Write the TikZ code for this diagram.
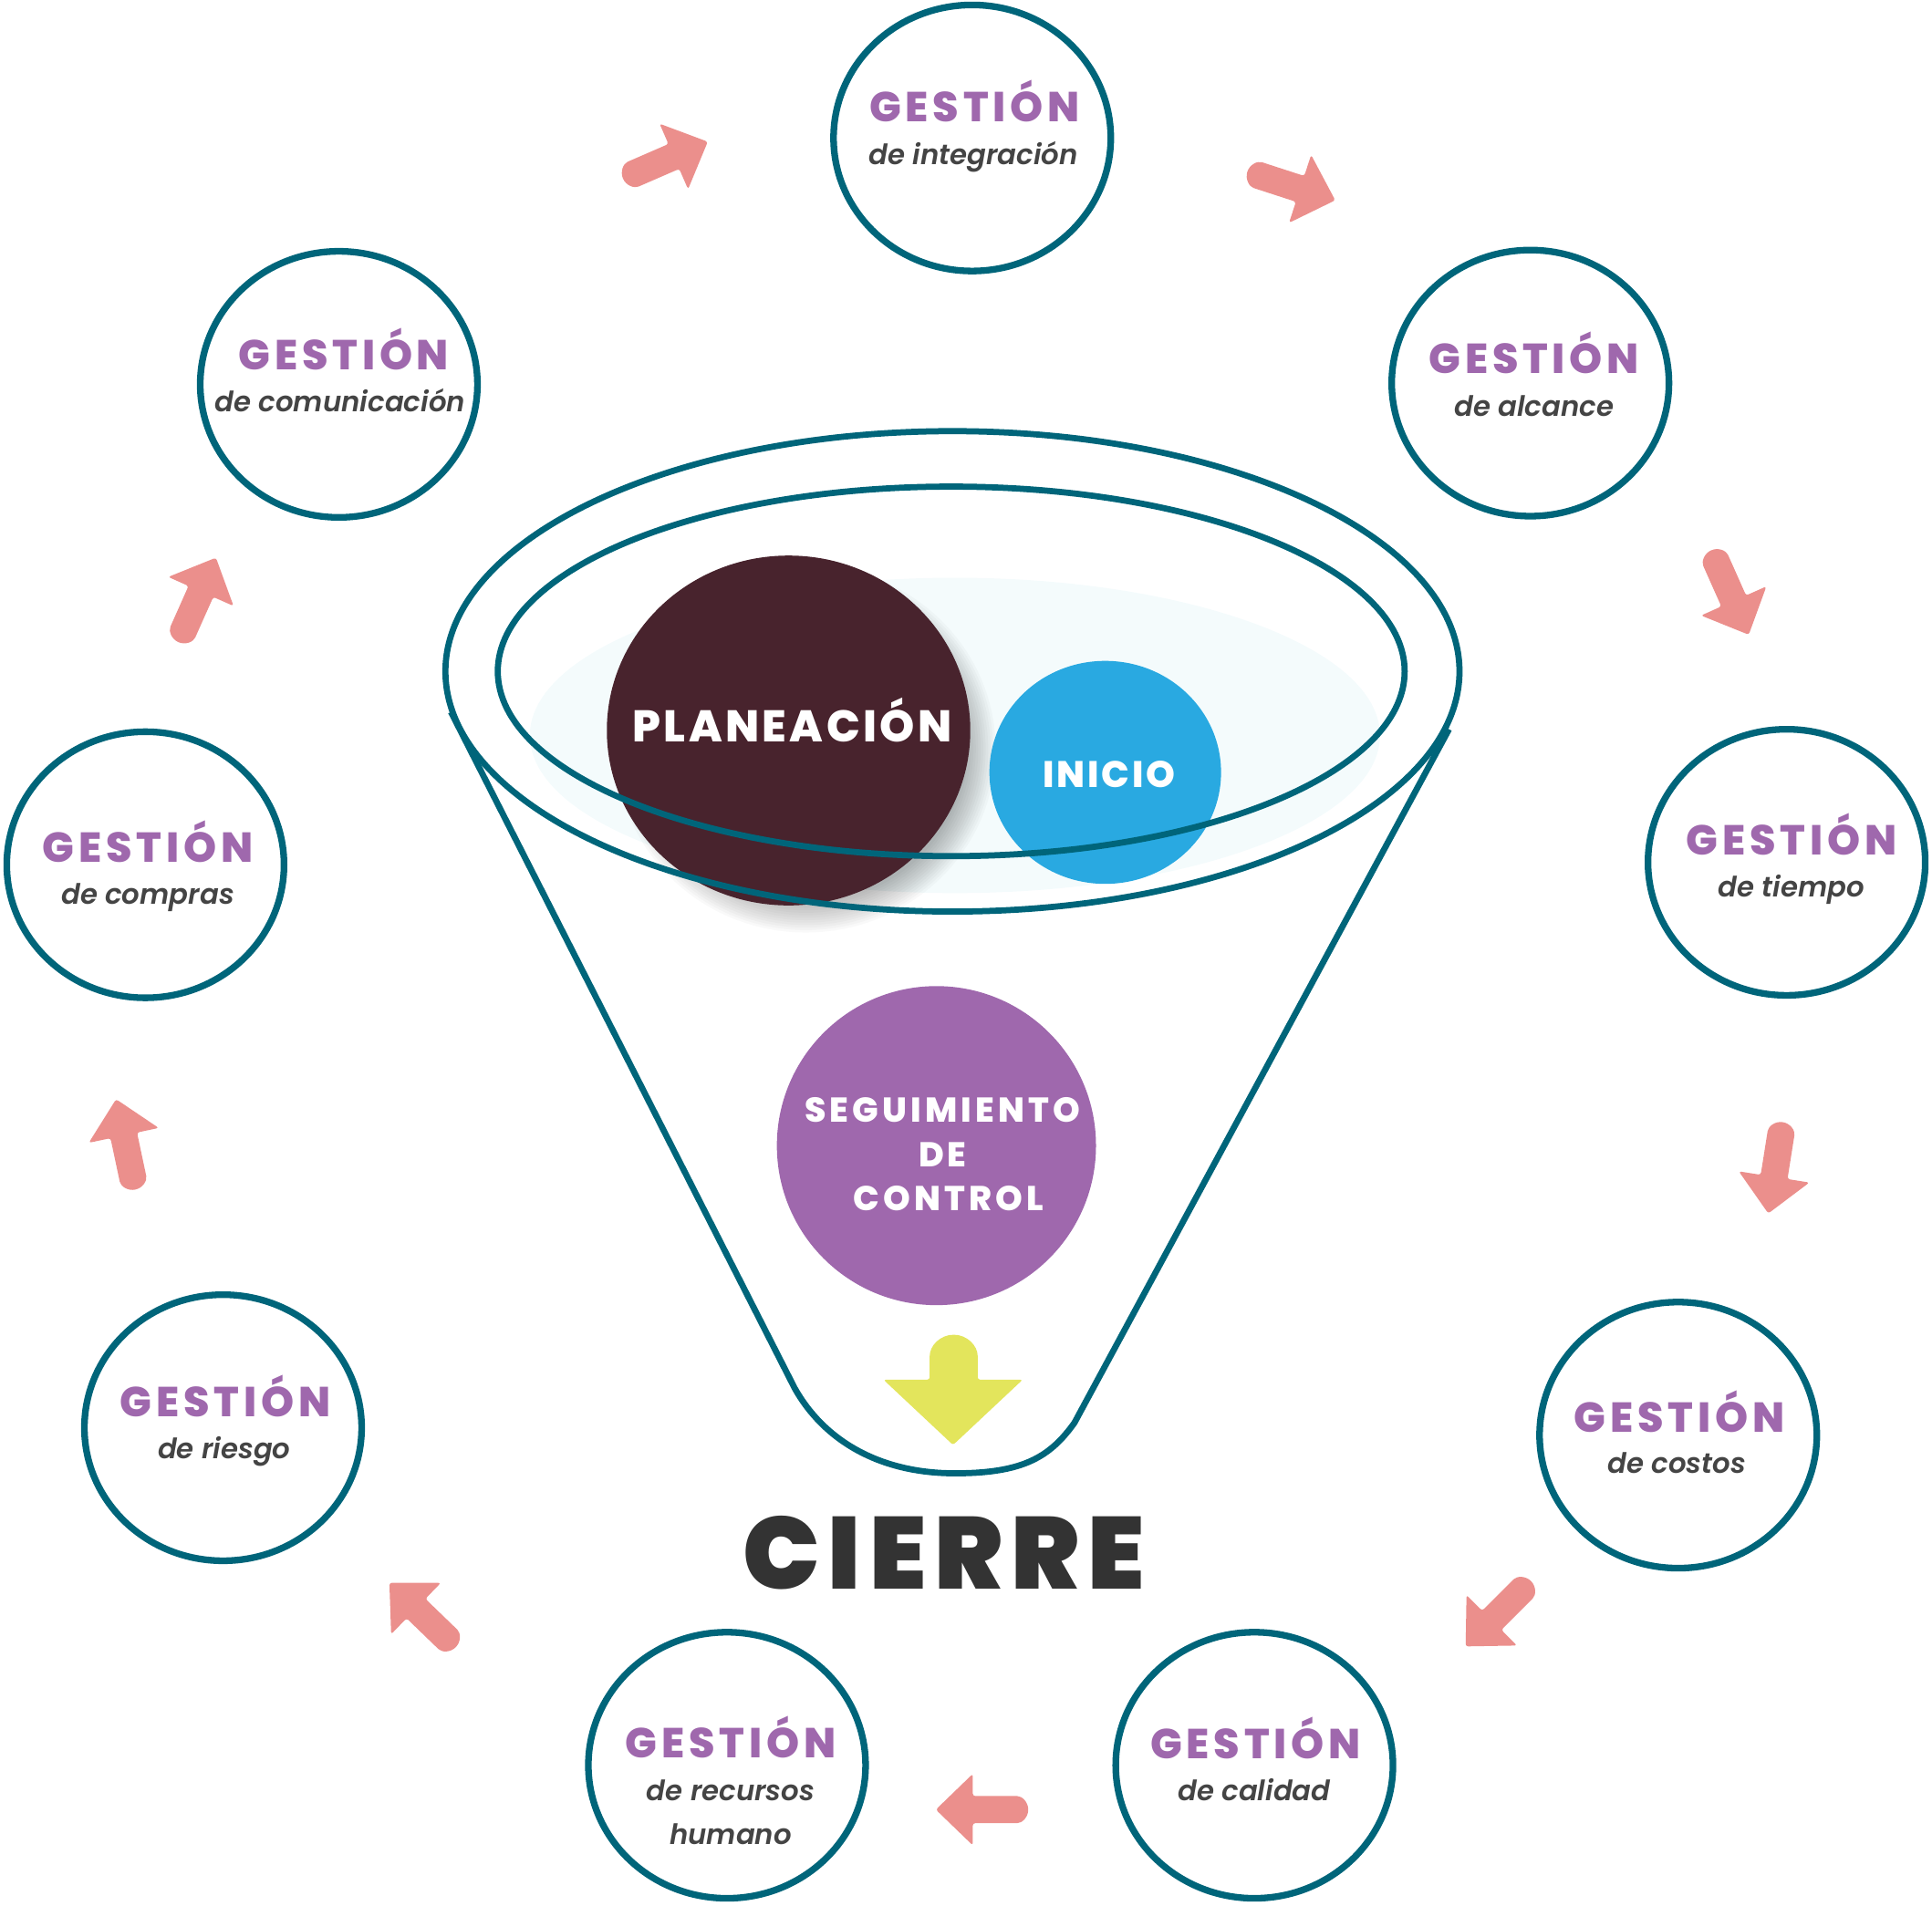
\documentclass[tikz,border=0pt]{standalone}
\usepackage{fontspec}
\usetikzlibrary{shapes.geometric,calc}
\IfFontExistsTF{Poppins ExtraBold}{\def\heavyname{Poppins ExtraBold}}{\def\heavyname{Poppins Bold}}
\IfFontExistsTF{Poppins Black}{\def\blackname{Poppins Black}}{\def\blackname{\heavyname}}
\newfontfamily\gestf{\heavyname}[LetterSpace=10.5]
\newfontfamily\planf{\heavyname}[LetterSpace=7]
\newfontfamily\inif{\heavyname}[LetterSpace=7]
\newfontfamily\segf{\heavyname}[LetterSpace=11]
\newfontfamily\cierf{\blackname}[LetterSpace=8]
\IfFontExistsTF{Poppins SemiBold Italic}{\newfontfamily\subf{Poppins SemiBold Italic}}{%
  \IfFontExistsTF{Poppins Medium Italic}{\newfontfamily\subf{Poppins Medium Italic}}{\newfontfamily\subf{Lato Bold Italic}}}
\definecolor{teal}{HTML}{00657A}
\definecolor{purp}{HTML}{9F68AD}
\definecolor{dgray}{HTML}{444444}
\definecolor{salmon}{HTML}{EB8F8C}
\definecolor{yel}{HTML}{E3E55C}
\definecolor{maroon}{HTML}{48232D}
\definecolor{blu}{HTML}{29A9E1}
\definecolor{cier}{HTML}{333333}
\definecolor{glow}{HTML}{F4FBFC}
\tikzset{
  gcirc/.style={ellipse, draw=teal, line width=5.4pt, minimum width=225pt, minimum height=216pt, inner sep=0pt},
  gt/.style={anchor=base, inner sep=0pt, text=purp, font=\gestf\fontsize{34}{34}\selectfont},
  st/.style={anchor=base, inner sep=0pt, text=dgray, font=\subf\fontsize{22.8}{22.8}\selectfont},
  wt/.style={anchor=base, inner sep=0pt, text=white},
  funnel/.style={draw=teal, line width=5pt},
  blockarrow/.pic={\fill[salmon, rounded corners=2pt] (-26.5,11) arc[start angle=90, end angle=270, radius=11] -- (7.5,-11) -- (7.5,-29) -- (37.5,0) -- (7.5,29) -- (7.5,11) -- cycle;}
}
\begin{document}
\begin{tikzpicture}[x=1pt,y=-1pt]
\useasboundingbox (0,0) rectangle (1568,1547);
% glow
\fill[glow] (775,597) ellipse[x radius=345, y radius=128];
% shadow of planeacion
\foreach \r in {0,2,...,24} {\fill[black, opacity=0.025] (654,608) ellipse[x radius=130+\r, y radius=125+\r];}
\node[ellipse, fill=maroon, minimum width=295pt, minimum height=284pt, inner sep=0pt] (plan) at (640,593) {};
\node[wt, font=\planf\fontsize{36}{36}\selectfont] (plant) at (643,602) {PLANEACIÓN};
\node[ellipse, fill=blu, minimum width=188pt, minimum height=181pt, inner sep=0pt] (ini) at (897,627) {};
\node[wt, font=\inif\fontsize{30}{30}\selectfont] (init) at (900,639) {INICIO};
% funnel
\node[ellipse, funnel, minimum width=823pt, minimum height=390pt, inner sep=0pt] (outer) at (773,545) {};
\node[ellipse, funnel, minimum width=736pt, minimum height=300pt, inner sep=0pt] (inner) at (772,545) {};
\coordinate (fl) at (366,578);
\coordinate (fr) at (1176,592);
\draw[funnel, line join=round] (fl) -- (645,1127) .. controls (668,1168) and (712,1196) .. (775,1196) .. controls (830,1196) and (852,1183) .. (872,1155) -- (fr);
% seguimiento
\node[circle, fill=purp, minimum size=259pt, inner sep=0pt] (seg) at (760,930) {};
\node[wt, font=\segf\fontsize{28}{28}\selectfont] (s1) at (765,911) {SEGUIMIENTO};
\node[wt, font=\segf\fontsize{28}{28}\selectfont] (s2) at (765,947) {DE};
\node[wt, font=\segf\fontsize{28}{28}\selectfont] (s3) at (770,983) {CONTROL};
% yellow arrow
\fill[yel, rounded corners=2pt] (754.5,1120) -- (754.5,1103) arc[start angle=180, end angle=360, radius=19.5] -- (793.5,1120) -- (830,1120) -- (773.5,1173) -- (717,1120) -- cycle;
% cierre
\node[anchor=base, inner sep=0pt, text=cier, font=\cierf\fontsize{83}{83}\selectfont] (cierre) at (766,1290) {CIERRE};
% gestion circles
\node[gcirc] (c1) at (789,112) {};
\node[gt] at (791,99) {GESTIÓN};
\node[st] at (790,133.5) {de integración};
\node[gcirc] (c2) at (1242,311) {};
\node[gt] at (1245,303) {GESTIÓN};
\node[st] at (1245,338) {de alcance};
\node[gcirc] (c3) at (1450,700) {};
\node[gt] at (1454,694) {GESTIÓN};
\node[st] at (1454,728) {de tiempo};
\node[gcirc] (c4) at (1362,1165) {};
\node[gt] at (1363,1163) {GESTIÓN};
\node[st] at (1361,1196) {de costos};
\node[gcirc] (c5) at (1018,1433) {};
\node[gt] at (1019,1428) {GESTIÓN};
\node[st] at (1018,1462) {de calidad};
\node[gcirc] (c6) at (590,1433) {};
\node[gt] at (593,1427) {GESTIÓN};
\node[st] at (593,1462) {de recursos};
\node[st] at (593,1497) {humano};
\node[gcirc] (c7) at (181,1159) {};
\node[gt] at (183,1150) {GESTIÓN};
\node[st] at (182,1184) {de riesgo};
\node[gcirc] (c8) at (118,702) {};
\node[gt] at (120,700) {GESTIÓN};
\node[st] at (120,734) {de compras};
\node[gcirc] (c9) at (275,312) {};
\node[gt] at (279,300) {GESTIÓN};
\node[st] at (276,334.5) {de comunicación};
% arrows
\pic[rotate=23.5] at (540,130) {blockarrow};
\pic[rotate=-18] at (1048,151) {blockarrow};
\pic[rotate=-66] at (1404,481) {blockarrow};
\pic[rotate=-99] at (1441,948) {blockarrow};
\pic[rotate=-135] at (1216,1310) {blockarrow};
\pic[rotate=180] at (797,1469) {blockarrow};
\pic[rotate=136] at (343,1311) {blockarrow};
\pic[rotate=102] at (102,929) {blockarrow};
\pic[rotate=66] at (160,487) {blockarrow};
\end{tikzpicture}
\end{document}
